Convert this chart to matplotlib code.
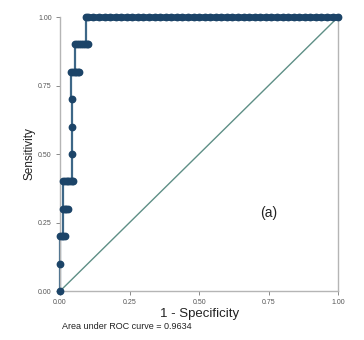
import matplotlib
matplotlib.use("Agg")
import matplotlib.pyplot as plt

plt.rcParams["font.family"] = ["Liberation Sans", "DejaVu Sans"]

# ROC points (1 - specificity, sensitivity)
fpr = [0.0, 0.0, 0.0, 0.006, 0.012, 0.018,
       0.010, 0.016, 0.022, 0.027,
       0.012, 0.018, 0.024, 0.030, 0.036, 0.042, 0.048,
       0.043, 0.043, 0.043,
       0.040, 0.046, 0.052, 0.058, 0.064, 0.068,
       0.055, 0.062, 0.068, 0.075, 0.082, 0.089, 0.096, 0.100,
       0.093, 0.10, 0.12, 0.14, 0.16, 0.18, 0.20, 0.22, 0.24, 0.26, 0.28, 0.30,
       0.32, 0.34, 0.36, 0.38, 0.40, 0.42, 0.44, 0.46, 0.48, 0.50, 0.52, 0.54,
       0.56, 0.58, 0.60, 0.62, 0.64, 0.66, 0.68, 0.70, 0.72, 0.74, 0.76, 0.78,
       0.80, 0.82, 0.84, 0.86, 0.88, 0.90, 0.92, 0.94, 0.96, 0.98, 1.0]
tpr = [0.0, 0.1, 0.2, 0.2, 0.2, 0.2,
       0.3, 0.3, 0.3, 0.3,
       0.4, 0.4, 0.4, 0.4, 0.4, 0.4, 0.4,
       0.5, 0.6, 0.7,
       0.8, 0.8, 0.8, 0.8, 0.8, 0.8,
       0.9, 0.9, 0.9, 0.9, 0.9, 0.9, 0.9, 0.9] + [1.0] * 47

auc_text = "Area under ROC curve = 0.9634"
ticks = [0.0, 0.25, 0.5, 0.75, 1.0]
tick_labels = ["0.00", "0.25", "0.50", "0.75", "1.00"]

fig = plt.figure(figsize=(3.64, 3.40), dpi=100)
ax = fig.add_axes([0.165, 0.144, 0.764, 0.806])

ax.plot([0, 1], [0, 1], color="#5e8f86", lw=1.0, zorder=1)
ax.step(fpr, tpr, where="post", color="#3d6787", lw=1.6, zorder=2, clip_on=False)
ax.plot(fpr, tpr, linestyle="none", marker="o", ms=4.6, color="#1c4468",
        zorder=3, clip_on=False)
ax.plot([0.093, 1.0], [1.0, 1.0], color="#1c4468", lw=4.8, zorder=3,
        solid_capstyle="round", clip_on=False)

ax.set_xlim(0, 1)
ax.set_ylim(0, 1)
ax.set_xticks(ticks)
ax.set_xticklabels(tick_labels)
ax.set_yticks(ticks)
ax.set_yticklabels(tick_labels)
ax.tick_params(labelsize=5, colors="#777777", length=3, width=0.6, pad=3)
for lab in ax.get_xticklabels() + ax.get_yticklabels():
    lab.set_color("#555555")
for s in ax.spines.values():
    s.set_color("#b5b5b5")
    s.set_linewidth(1.0)
ax.spines["top"].set_visible(False)

ax.set_xlabel("1 - Specificity", fontsize=9.5, color="#222222", labelpad=1)
ax.set_ylabel("Sensitivity", fontsize=8.5, color="#222222", labelpad=2)
ax.text(0.72, 0.27, "(a)", fontsize=10, color="#222222", transform=ax.transAxes)
fig.text(0.17, 0.032, auc_text, fontsize=6.5, color="#222222")

fig.savefig("out.png", dpi=100)
